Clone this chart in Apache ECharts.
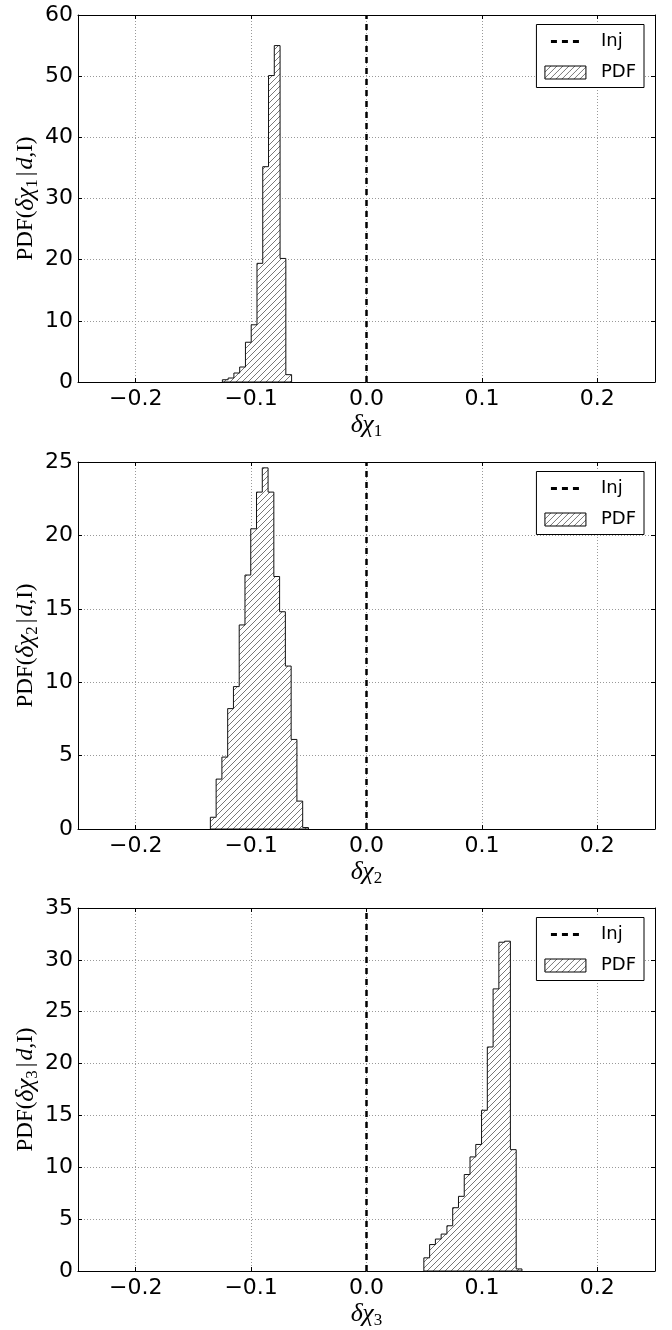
<!DOCTYPE html>
<html><head><meta charset="utf-8">
<script src="https://cdn.jsdelivr.net/npm/echarts@6/dist/echarts.min.js"></script>
<style>html,body{margin:0;padding:0;background:#fff}#c{width:672px;height:1330px}</style>
</head><body><div id="c"></div>
<script>
// ---- data ----
const xMin = -0.25, xMax = 0.25;
const injValue = 0;
const binWidth = 0.005;
const pdf1Start = -0.1249;
const pdf1 = [0.37, 0.65, 1.47, 2.45, 6.5, 9.35, 19.4, 35.2, 50.1, 55.0, 20.2, 1.2];
const pdf2Start = -0.1353;
const pdf2 = [0.8, 3.4, 4.9, 8.2, 9.7, 13.9, 17.3, 20.45, 22.95, 24.6, 22.95, 17.2, 14.8, 11.1, 6.1, 1.9, 0.1];
const pdf3Start = 0.0497;
const pdf3 = [1.27, 2.55, 3.08, 3.56, 4.36, 6.1, 7.2, 9.3, 11.0, 12.2, 15.5, 21.6, 27.2, 31.7, 31.8, 11.7, 0.2];
const yMax = [60, 25, 35];
const yStep = [10, 5, 5];
const subIdx = ['1', '2', '3'];
const legendNames = ['Inj', 'PDF'];

const starts = [pdf1Start, pdf2Start, pdf3Start];
const pdfs = [pdf1, pdf2, pdf3];

function makeHatch() {
  const s = 6;
  const c = document.createElement('canvas');
  c.width = s; c.height = s;
  const g = c.getContext('2d');
  g.fillStyle = '#fff'; g.fillRect(0, 0, s, s);
  g.strokeStyle = '#555'; g.lineWidth = 0.8;
  g.beginPath();
  g.moveTo(-1, s + 1); g.lineTo(s + 1, -1);
  g.moveTo(-1, 1); g.lineTo(1, -1);
  g.moveTo(s - 1, s + 1); g.lineTo(s + 1, s - 1);
  g.stroke();
  return c;
}
const hatch = { image: makeHatch(), repeat: 'repeat' };

const gridTops = [15, 462, 908];
const gridH = 367;

const serif = 'Liberation Serif';
const rich = {
  r: { fontFamily: serif, fontSize: 23, lineHeight: 30, color: '#000' },
  g: { fontFamily: serif, fontStyle: 'italic', fontSize: 26, lineHeight: 30, color: '#000' },
  i: { fontFamily: serif, fontStyle: 'italic', fontSize: 24, lineHeight: 30, color: '#000' },
  b: { fontFamily: serif, fontSize: 23, lineHeight: 30, color: '#000', padding: [0, 2, 0, 3] },
  s: { fontFamily: serif, fontSize: 17, lineHeight: 30, verticalAlign: 'bottom', color: '#000' }
};

const grids = [], xAxes = [], yAxes = [], series = [], legends = [];
const tickFont = { fontFamily: 'DejaVu Sans', fontSize: 22, color: '#000' };
function fmtX(v) {
  const a = Math.abs(v).toFixed(1);
  return (v < -1e-9 ? '\u2212' : '') + a;
}

for (let i = 0; i < 3; i++) {
  grids.push({ left: 78, width: 577, top: gridTops[i], height: gridH, show: false });
  xAxes.push({
    type: 'value', gridIndex: i, min: xMin, max: xMax, splitNumber: 5, position: 'bottom',
    axisLine: { show: true, onZero: false, lineStyle: { color: '#000', width: 1 } },
    axisTick: { show: true, inside: true, length: 4, lineStyle: { color: '#000' } },
    axisLabel: { formatter: fmtX, showMinLabel: false, showMaxLabel: false, margin: 6, ...tickFont },
    splitLine: { show: true, showMinLine: false, showMaxLine: false, lineStyle: { color: '#999', width: 1, type: [1, 2] } },
    name: '{g|δχ}{s|' + subIdx[i] + '}', nameLocation: 'middle', nameGap: 28,
    nameTextStyle: { rich: rich }
  });
  xAxes.push({
    type: 'value', gridIndex: i, min: xMin, max: xMax, splitNumber: 5, position: 'top',
    axisLine: { show: true, onZero: false, lineStyle: { color: '#000', width: 1 } },
    axisTick: { show: true, inside: true, length: 4, lineStyle: { color: '#000' } },
    axisLabel: { show: false }, splitLine: { show: false }
  });
  yAxes.push({
    type: 'value', gridIndex: i, min: 0, max: yMax[i], interval: yStep[i], position: 'left',
    axisLine: { show: true, onZero: false, lineStyle: { color: '#000', width: 1 } },
    axisTick: { show: true, inside: true, length: 4, lineStyle: { color: '#000' } },
    axisLabel: { margin: 5, ...tickFont },
    splitLine: { show: true, showMinLine: false, showMaxLine: false, lineStyle: { color: '#999', width: 1, type: [1, 2] } },
    name: '{r|PDF(}{g|δχ}{s|' + subIdx[i] + '}{b||}{i|d}{r|,I)}', nameLocation: 'middle', nameGap: 37, nameRotate: 90,
    nameMoveOverlap: false,
    nameTextStyle: { rich: rich }
  });
  yAxes.push({
    type: 'value', gridIndex: i, min: 0, max: yMax[i], interval: yStep[i], position: 'right',
    axisLine: { show: true, onZero: false, lineStyle: { color: '#000', width: 1 } },
    axisTick: { show: true, inside: true, length: 4, lineStyle: { color: '#000' } },
    axisLabel: { show: false }, splitLine: { show: false }
  });
  const start = starts[i], vals = pdfs[i];
  series.push({
    type: 'custom', name: 'PDF', xAxisIndex: 2 * i, yAxisIndex: 2 * i,
    data: [[start, 0]],
    itemStyle: { color: hatch, borderColor: '#000', borderWidth: 1 },
    renderItem: function (params, api) {
      const pts = [api.coord([start, 0])];
      for (let k = 0; k < vals.length; k++) {
        const x0 = start + k * binWidth, x1 = x0 + binWidth;
        pts.push(api.coord([x0, vals[k]]));
        pts.push(api.coord([x1, vals[k]]));
      }
      pts.push(api.coord([start + vals.length * binWidth, 0]));
      return { type: 'polygon', shape: { points: pts }, style: { fill: hatch, stroke: '#111', lineWidth: 1 } };
    },
    z: 3
  });
  series.push({
    type: 'line', name: 'Inj', xAxisIndex: 2 * i, yAxisIndex: 2 * i,
    data: [[injValue, 0], [injValue, yMax[i]]],
    symbol: 'none', showSymbol: false,
    lineStyle: { color: '#000', width: 2.5, type: [6, 5] },
    itemStyle: { color: '#000' },
    z: 4
  });
  legends.push({
    orient: 'vertical', right: 28, top: gridTops[i] + 9.5,
    itemWidth: 41, itemHeight: 13, itemGap: 11,
    padding: [7, 8, 5, 7], borderColor: '#000', borderWidth: 1, borderRadius: 0,
    backgroundColor: '#fff', selectedMode: false,
    textStyle: { fontFamily: 'DejaVu Sans', fontSize: 18, color: '#000', lineHeight: 20, padding: [0, 0, 0, 10] },
    data: [
      { name: legendNames[0], itemStyle: { color: 'rgba(0,0,0,0)', borderColor: 'rgba(0,0,0,0)', borderWidth: 0 },
        lineStyle: { color: '#000', width: 3, type: [0, 6, 6, 5, 6, 5, 6, 20] } },
      { name: legendNames[1], icon: 'rect', itemStyle: { color: hatch, borderColor: '#000', borderWidth: 1 } }
    ]
  });
}

const chart = echarts.init(document.getElementById('c'), null, { renderer: 'canvas' });
chart.setOption({
  animation: false,
  backgroundColor: '#fff',
  grid: grids, xAxis: xAxes, yAxis: yAxes, series: series, legend: legends
});
</script></body></html>
